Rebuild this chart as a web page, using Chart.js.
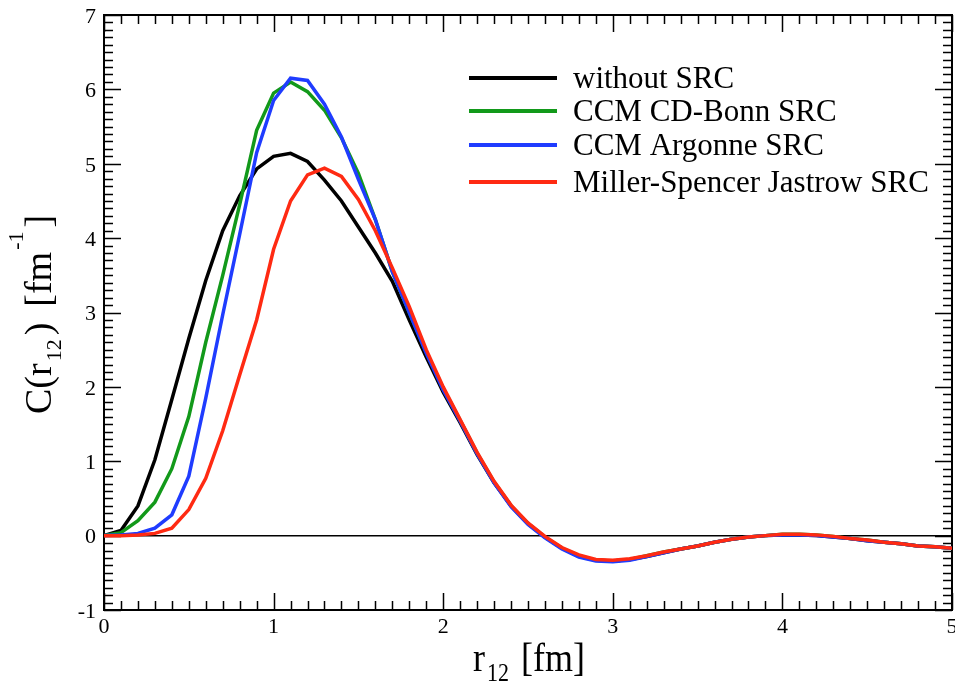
<!DOCTYPE html>
<html>
<head>
<meta charset="utf-8">
<script src="https://cdn.jsdelivr.net/npm/chart.js@4.4.1/dist/chart.umd.min.js"></script>
<style>
  html, body { margin: 0; padding: 0; background: #fff; }
  #wrap { width: 955px; height: 683px; }
</style>
</head>
<body>
<div id="wrap"><canvas id="chartC" width="955" height="683"></canvas></div>
<script>
// r12 grid in fm
const r12 = [
  0.0, 0.1, 0.2, 0.3, 0.4, 0.5, 0.6, 0.7, 0.8, 0.9,
  1.0, 1.1, 1.2, 1.3, 1.4, 1.5, 1.6, 1.7, 1.8, 1.9,
  2.0, 2.1, 2.2, 2.3, 2.4, 2.5, 2.6, 2.7, 2.8, 2.9,
  3.0, 3.1, 3.2, 3.3, 3.4, 3.5, 3.6, 3.7, 3.8, 3.9,
  4.0, 4.1, 4.2, 4.3, 4.4, 4.5, 4.6, 4.7, 4.8, 4.9, 5.0
];

// C(r12) in fm^-1, one array per curve
const withoutSRC = [
  0, 0.07, 0.40, 1.02, 1.83, 2.65, 3.43, 4.10, 4.57, 4.93,
  5.10, 5.14, 5.03, 4.78, 4.50, 4.15, 3.80, 3.42, 2.90, 2.40,
  1.93, 1.52, 1.09, 0.71, 0.40, 0.16, -0.02, -0.17, -0.28, -0.33,
  -0.34, -0.32, -0.28, -0.23, -0.18, -0.14, -0.09, -0.05, -0.02, 0.0,
  0.01, 0.01, 0.0, -0.02, -0.04, -0.07, -0.09, -0.11, -0.14, -0.15, -0.17
];
const cdBonnSRC = [
  0, 0.04, 0.20, 0.45, 0.90, 1.60, 2.60, 3.50, 4.45, 5.45,
  5.95, 6.10, 5.97, 5.72, 5.35, 4.87, 4.25, 3.55, 3.00, 2.47,
  1.98, 1.55, 1.11, 0.72, 0.40, 0.16, -0.02, -0.17, -0.27, -0.33,
  -0.34, -0.32, -0.27, -0.22, -0.18, -0.14, -0.09, -0.05, -0.02, 0.0,
  0.02, 0.02, 0.01, -0.01, -0.04, -0.06, -0.09, -0.11, -0.14, -0.15, -0.17
];
const argonneSRC = [
  0, 0.01, 0.03, 0.10, 0.28, 0.80, 1.85, 2.97, 4.05, 5.15,
  5.85, 6.15, 6.12, 5.80, 5.36, 4.79, 4.25, 3.55, 3.00, 2.45,
  1.96, 1.54, 1.10, 0.71, 0.39, 0.15, -0.03, -0.18, -0.29, -0.34,
  -0.35, -0.33, -0.28, -0.23, -0.18, -0.14, -0.09, -0.05, -0.02, 0.0,
  0.01, 0.01, 0.0, -0.02, -0.04, -0.07, -0.09, -0.11, -0.14, -0.15, -0.17
];
const jastrowSRC = [
  0, 0, 0.01, 0.03, 0.10, 0.35, 0.77, 1.41, 2.16, 2.90,
  3.85, 4.50, 4.85, 4.94, 4.83, 4.52, 4.10, 3.60, 3.08, 2.50,
  2.00, 1.56, 1.12, 0.73, 0.41, 0.17, -0.01, -0.16, -0.26, -0.32,
  -0.33, -0.31, -0.27, -0.22, -0.18, -0.14, -0.09, -0.05, -0.02, 0.0,
  0.02, 0.02, 0.01, -0.01, -0.04, -0.06, -0.09, -0.11, -0.14, -0.15, -0.17
];

const seriesLabels = ["without SRC", "CCM CD-Bonn SRC", "CCM Argonne SRC", "Miller-Spencer Jastrow SRC"];
const seriesColors = ["#000000", "#12991a", "#1f3cff", "#ff2a12"];
const xRange = [0, 5];
const yRange = [-1, 7];

const SERIF = '"Liberation Serif", "Times New Roman", serif';

function pts(ys) {
  return r12.map((x, i) => ({ x: x, y: ys[i] }));
}

// draws a run of text pieces (for sub/superscripts), returns width
function drawPieces(ctx, pieces) {
  let cx = 0;
  pieces.forEach(p => {
    ctx.font = p.size + 'px ' + SERIF;
    ctx.fillText(p.text, cx, p.dy);
    cx += ctx.measureText(p.text).width + (p.gap || 0);
  });
  return cx;
}

// frame, inward ticks on four sides, zero line
const frame = {
  id: 'frame',
  beforeDatasetsDraw(chart) {
    const { ctx, chartArea: a, scales: { x, y } } = chart;
    ctx.save();
    ctx.strokeStyle = '#000';

    ctx.lineWidth = 1.5;
    const y0 = y.getPixelForValue(0);
    ctx.beginPath();
    ctx.moveTo(a.left, y0);
    ctx.lineTo(a.right, y0);
    ctx.stroke();

    ctx.lineWidth = 1.5;
    ctx.beginPath();
    for (let i = xRange[0] * 10; i <= xRange[1] * 10; i++) {
      const px = Math.round(x.getPixelForValue(i / 10)) + 0.5;
      const len = i % 10 === 0 ? 17 : 9;
      ctx.moveTo(px, a.bottom); ctx.lineTo(px, a.bottom - len);
      ctx.moveTo(px, a.top); ctx.lineTo(px, a.top + len);
    }
    for (let i = yRange[0] * 10; i <= yRange[1] * 10; i++) {
      const py = Math.round(y.getPixelForValue(i / 10)) + 0.5;
      const len = i % 10 === 0 ? 17 : 9;
      ctx.moveTo(a.left, py); ctx.lineTo(a.left + len, py);
      ctx.moveTo(a.right, py); ctx.lineTo(a.right - len, py);
    }
    ctx.stroke();

    ctx.lineWidth = 2;
    ctx.strokeRect(a.left, a.top, a.right - a.left, a.bottom - a.top);
    ctx.restore();
  },
  afterDraw(chart) {
    const ctx = chart.ctx;
    ctx.save();
    ctx.fillStyle = '#000';
    ctx.textAlign = 'left';
    ctx.textBaseline = 'alphabetic';

    // x axis title: r_12 [fm]
    ctx.save();
    ctx.translate(473, 671);
    ctx.scale(1, 1.12);
    drawPieces(ctx, [
      { text: 'r', size: 36, dy: 0, gap: 2 },
      { text: '12', size: 22, dy: 9, gap: 12 },
      { text: '[fm]', size: 36, dy: 0 }
    ]);
    ctx.restore();

    // y axis title: C(r_12) [fm^-1]
    ctx.save();
    ctx.translate(51, 414);
    ctx.rotate(-Math.PI / 2);
    drawPieces(ctx, [
      { text: 'C(r', size: 38, dy: 0, gap: 2 },
      { text: '12', size: 22, dy: 10, gap: 4 },
      { text: ')', size: 38, dy: 0, gap: 16 },
      { text: '[fm', size: 38, dy: 0, gap: 2 },
      { text: '-1', size: 22, dy: -28, gap: 4 },
      { text: ']', size: 38, dy: 0 }
    ]);
    ctx.restore();

    // legend
    const rowsY = [78, 111, 145, 182];
    ctx.font = '31px ' + SERIF;
    chart.data.datasets.forEach((ds, i) => {
      ctx.strokeStyle = ds.borderColor;
      ctx.lineWidth = 4;
      ctx.beginPath();
      ctx.moveTo(469, rowsY[i]);
      ctx.lineTo(557, rowsY[i]);
      ctx.stroke();
      ctx.fillText(ds.label, 573, rowsY[i] + 10);
    });
    ctx.restore();
  }
};

const datasets = [withoutSRC, cdBonnSRC, argonneSRC, jastrowSRC].map((ys, i) => ({
  label: seriesLabels[i],
  data: pts(ys),
  borderColor: seriesColors[i],
  backgroundColor: seriesColors[i],
  borderWidth: 3.5,
  pointRadius: 0,
  tension: 0,
  fill: false,
  order: 4 - i
}));

const tickFont = { family: SERIF, size: 22 };

new Chart(document.getElementById('chartC'), {
  type: 'line',
  data: { datasets: datasets },
  options: {
    responsive: false,
    animation: false,
    layout: { padding: { left: 0, right: 3, top: 15, bottom: 0 } },
    plugins: { legend: { display: false }, tooltip: { enabled: false } },
    scales: {
      x: {
        type: 'linear',
        min: xRange[0],
        max: xRange[1],
        grid: { display: false, drawTicks: false },
        border: { display: false },
        ticks: { stepSize: 1, padding: 4, color: '#000', font: tickFont, maxRotation: 0 },
        afterFit(s) { s.height = 73; s.paddingLeft = 0; s.paddingRight = 0; }
      },
      y: {
        type: 'linear',
        min: yRange[0],
        max: yRange[1],
        grid: { display: false, drawTicks: false },
        border: { display: false },
        ticks: { stepSize: 1, padding: 8, labelOffset: 2, color: '#000', font: tickFont },
        afterFit(s) { s.width = 104; s.paddingTop = 0; s.paddingBottom = 0; }
      }
    }
  },
  plugins: [frame]
});
</script>
</body>
</html>
